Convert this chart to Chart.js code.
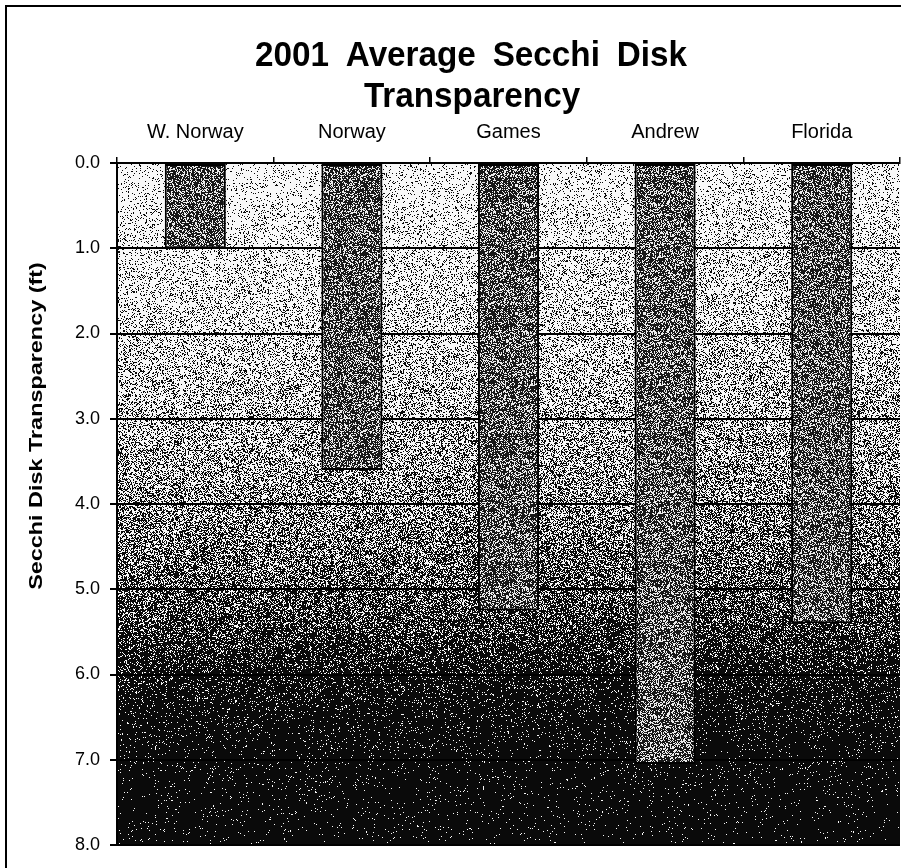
<!DOCTYPE html>
<html>
<head>
<meta charset="utf-8">
<title>2001 Average Secchi Disk Transparency</title>
<script src="https://cdn.jsdelivr.net/npm/chart.js@4/dist/chart.umd.min.js"></script>
<style>
  html, body { margin: 0; padding: 0; background: #fff; }
  #wrap { width: 901px; height: 868px; position: relative; }
</style>
</head>
<body>
<div id="wrap"><canvas id="c" width="901" height="868"></canvas></div>
<script>
// Lakes and their 2001 average Secchi disk depth (ft)
const lakes = ['W. Norway', 'Norway', 'Games', 'Andrew', 'Florida'];
const secchiDepthFt = [1.0, 3.6, 5.25, 7.05, 5.4];
const depthTicks = [0, 1, 2, 3, 4, 5, 6, 7, 8];
const titleLines = ['2001 Average Secchi Disk', 'Transparency'];
const yAxisTitle = 'Secchi Disk Transparency (ft)';

const FONT = '"Liberation Sans", Arial, sans-serif';

// Deterministic hash used for the stippled (dithered) fills
function hash2(x, y, seed) {
  let h = (Math.imul(x, 374761393) + Math.imul(y, 668265263) + Math.imul(seed, 2246822519)) | 0;
  h = Math.imul(h ^ (h >>> 13), 1274126177);
  h ^= h >>> 16;
  return (h >>> 0) / 4294967296;
}

// Share of light pixels in the water backdrop, by depth (ft)
const backdropShade = [[0, 0.93], [1, 0.84], [2, 0.77], [3, 0.67], [4, 0.53], [5, 0.36],
                       [5.5, 0.23], [6, 0.12], [6.5, 0.06], [7, 0.035], [8, 0.02]];
function lightAt(v) {
  if (v <= backdropShade[0][0]) return backdropShade[0][1];
  for (let i = 1; i < backdropShade.length; i++) {
    const [v1, l1] = backdropShade[i];
    const [v0, l0] = backdropShade[i - 1];
    if (v <= v1) return l0 + (l1 - l0) * (v - v0) / (v1 - v0);
  }
  return backdropShade[backdropShade.length - 1][1];
}

// Stippled dark-grey fill for the bars
function barPattern() {
  const n = 128;
  const off = document.createElement('canvas');
  off.width = n; off.height = n;
  const g = off.getContext('2d');
  const img = g.createImageData(n, n);
  for (let j = 0; j < n; j++) {
    for (let i = 0; i < n; i++) {
      const k = (j * n + i) * 4;
      const on = hash2(i, j, 7) < 0.35;
      const c = on ? 235 : 22;
      img.data[k] = img.data[k + 1] = img.data[k + 2] = c;
      img.data[k + 3] = 255;
    }
  }
  g.putImageData(img, 0, 0);
  return g.createPattern(off, 'repeat');
}

const backdrop = {
  id: 'backdrop',
  beforeDraw(chart) {
    const a = chart.chartArea, ys = chart.scales.y, ctx = chart.ctx;
    const x0 = Math.round(a.left), y0 = Math.round(a.top);
    const w = Math.round(a.right) - x0, h = Math.round(a.bottom) - y0;
    const img = ctx.createImageData(w, h);
    for (let j = 0; j < h; j++) {
      const L = lightAt(ys.getValueForPixel(y0 + j));
      for (let i = 0; i < w; i++) {
        const l = L * (1 - 0.08 * i / w);
        const on = hash2(x0 + i, y0 + j, 3) < l;
        const c = on ? 248 : 10;
        const k = (j * w + i) * 4;
        img.data[k] = img.data[k + 1] = img.data[k + 2] = c;
        img.data[k + 3] = 255;
      }
    }
    ctx.putImageData(img, x0, y0);
  }
};

// Text drawn with a horizontal stretch along its run and optional word spacing
function wideText(ctx, text, x, y, font, stretch, angle, wordGap) {
  ctx.save();
  ctx.translate(x, y);
  if (angle) ctx.rotate(angle);
  ctx.scale(stretch, 1);
  ctx.font = font;
  if (wordGap && 'wordSpacing' in ctx) ctx.wordSpacing = wordGap + 'px';
  ctx.textAlign = 'center';
  ctx.textBaseline = 'middle';
  ctx.fillText(text, 0, 0);
  ctx.restore();
}

const frameAndTitles = {
  id: 'frameAndTitles',
  afterDraw(chart) {
    const ctx = chart.ctx;
    ctx.save();
    ctx.strokeStyle = '#000';
    ctx.lineWidth = 2;
    ctx.beginPath();
    ctx.moveTo(6, 868);
    ctx.lineTo(6, 6);
    ctx.lineTo(901, 6);
    ctx.stroke();
    ctx.fillStyle = '#000';
    wideText(ctx, titleLines[0], 471, 56, 'bold 35px ' + FONT, 0.95, 0, 8);
    wideText(ctx, titleLines[1], 472, 97, 'bold 35px ' + FONT, 0.95, 0, 0);
    wideText(ctx, yAxisTitle, 37, 426, 'bold 18px ' + FONT, 1.3, -Math.PI / 2, 0);
    ctx.restore();
  }
};

new Chart(document.getElementById('c'), {
  type: 'bar',
  data: {
    labels: lakes,
    datasets: [{
      data: secchiDepthFt,
      backgroundColor: barPattern(),
      borderColor: '#000',
      borderWidth: 2,
      borderSkipped: false,
      categoryPercentage: 1,
      barPercentage: 0.39
    }]
  },
  options: {
    responsive: false,
    devicePixelRatio: 1,
    animation: false,
    layout: { padding: { top: 0, left: 0, right: 1, bottom: 23 } },
    plugins: { legend: { display: false }, tooltip: { enabled: false }, title: { display: false } },
    scales: {
      x: {
        position: 'top',
        offset: true,
        grid: { offset: true, drawOnChartArea: false, drawTicks: true, tickLength: 6, color: '#000', lineWidth: 1.5 },
        border: { color: '#000', width: 2 },
        ticks: { color: '#000', font: { family: FONT, size: 20 }, padding: 13, maxRotation: 0 },
        afterFit(s) { s.height = 163; }
      },
      y: {
        reverse: true,
        min: 0,
        max: 8,
        afterBuildTicks(s) { s.ticks = depthTicks.map(v => ({ value: v })); },
        grid: { color: '#000', lineWidth: 2, tickLength: 7 },
        border: { color: '#000', width: 2 },
        ticks: { color: '#000', font: { family: FONT, size: 18 }, padding: 10, callback: v => Number(v).toFixed(1) },
        title: { display: false },
        afterFit(s) { s.width = 117; }
      }
    }
  },
  plugins: [backdrop, frameAndTitles]
});
</script>
</body>
</html>
